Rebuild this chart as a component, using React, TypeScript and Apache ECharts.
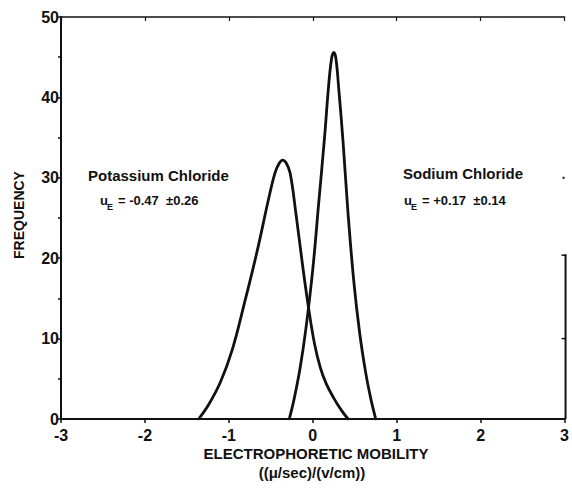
import React, { useEffect, useRef } from "react";
import * as echarts from "echarts";

const xTicks = [-3, -2, -1, 0, 1, 2, 3];
const yTicks = [0, 10, 20, 30, 40, 50];

const kclMobility = [-1.36, -1.24, -1.1, -0.96, -0.81, -0.66, -0.53, -0.45, -0.4, -0.36, -0.32, -0.27, -0.2, -0.12, -0.05, 0.02, 0.09, 0.16, 0.25, 0.34, 0.42];
const kclFrequency = [0, 1.8, 4.6, 8.6, 14.6, 21.0, 27.2, 30.6, 31.8, 32.2, 31.9, 30.6, 25.5, 19.0, 13.8, 9.4, 6.4, 4.4, 2.6, 1.1, 0];

const naclMobility = [-0.28, -0.22, -0.15, -0.08, 0.0, 0.07, 0.14, 0.19, 0.225, 0.25, 0.275, 0.31, 0.36, 0.42, 0.49, 0.56, 0.63, 0.69, 0.75];
const naclFrequency = [0, 2.6, 6.4, 11.4, 18.6, 26.8, 35.0, 41.6, 44.9, 45.6, 44.9, 41.0, 34.6, 25.6, 17.0, 10.6, 5.8, 2.6, 0];

const yTitle = "FREQUENCY";
const xTitle = "ELECTROPHORETIC MOBILITY";
const xUnits = "((\u03bc/sec)/(v/cm))";
const kclName = "Potassium Chloride";
const kclStat = "= -0.47  \u00b10.26";
const naclName = "Sodium Chloride";
const naclStat = "= +0.17  \u00b10.14";

export default function App() {
  const ref = useRef<HTMLDivElement>(null);
  useEffect(() => {
    const chart = echarts.init(ref.current!, null, { renderer: "svg" });
    const font = "'Liberation Sans', Arial, Helvetica, sans-serif";
    const ink = "#111";
    chart.setOption({
      animation: false,
      backgroundColor: "#fff",
      grid: { left: 61, right: 3, top: 17, bottom: 73, containLabel: false },
      xAxis: [
        {
          type: "value",
          min: xTicks[0],
          max: xTicks[xTicks.length - 1],
          interval: 1,
          axisLine: { show: true, onZero: false, lineStyle: { color: ink, width: 2 } },
          axisTick: { show: true, length: 4, lineStyle: { color: ink, width: 1.5 } },
          axisLabel: {
            color: ink,
            fontFamily: font,
            fontWeight: "bold",
            fontSize: 16,
            margin: 8,
          },
          splitLine: { show: false },
        },
        {
          type: "value",
          position: "top",
          min: xTicks[0],
          max: xTicks[xTicks.length - 1],
          interval: 1,
          axisLine: { show: true, onZero: false, lineStyle: { color: ink, width: 1.5 } },
          axisTick: { show: true, inside: true, length: 4, lineStyle: { color: ink, width: 1.2 } },
          axisLabel: { show: false },
          splitLine: { show: false },
        },
      ],
      yAxis: {
        type: "value",
        min: yTicks[0],
        max: yTicks[yTicks.length - 1],
        interval: 10,
        axisLine: { show: true, onZero: false, lineStyle: { color: ink, width: 2 } },
        axisTick: { show: true, length: 3, lineStyle: { color: ink, width: 1.5 } },
        minorTick: { show: true, splitNumber: 2, length: 3, lineStyle: { color: ink, width: 1.5 } },
        axisLabel: {
          color: ink,
          fontFamily: font,
          fontWeight: "bold",
          fontSize: 16,
          margin: 2,
        },
        splitLine: { show: false },
      },
      series: [
        {
          name: kclName,
          type: "line",
          xAxisIndex: 0,
          data: kclMobility.map((v, i) => [v, kclFrequency[i]]),
          showSymbol: false,
          smooth: 0.4,
          lineStyle: { color: ink, width: 2.8, join: "round", cap: "round" },
        },
        {
          name: naclName,
          type: "line",
          xAxisIndex: 0,
          data: naclMobility.map((v, i) => [v, naclFrequency[i]]),
          showSymbol: false,
          smooth: 0.4,
          lineStyle: { color: ink, width: 2.8, join: "round", cap: "round" },
        },
      ],
    });

    const pBottom = chart.convertToPixel({ gridIndex: 0 }, [xTicks[xTicks.length - 1], 0]) as number[];
    const pTop = chart.convertToPixel({ gridIndex: 0 }, [xTicks[xTicks.length - 1], 20.5]) as number[];
    const p10 = chart.convertToPixel({ gridIndex: 0 }, [xTicks[xTicks.length - 1], 10]) as number[];
    const p30 = chart.convertToPixel({ gridIndex: 0 }, [xTicks[xTicks.length - 1], 30]) as number[];
    const rx = pBottom[0] + 1;

    const txt = (text: string, x: number, y: number, size: number, extra: any = {}) => ({
      type: "text",
      x,
      y,
      style: {
        text,
        fill: ink,
        fontFamily: font,
        fontWeight: "bold",
        fontSize: size,
        textAlign: "left",
        textVerticalAlign: "middle",
        ...extra,
      },
    });

    chart.setOption({
      graphic: [
        { type: "line", shape: { x1: rx, y1: pTop[1], x2: rx, y2: pBottom[1] }, style: { stroke: ink, lineWidth: 2 } },
        { type: "line", shape: { x1: rx - 4, y1: pTop[1] + 1, x2: rx, y2: pTop[1] + 1 }, style: { stroke: ink, lineWidth: 1.5 } },
        { type: "line", shape: { x1: rx - 4, y1: p10[1], x2: rx, y2: p10[1] }, style: { stroke: ink, lineWidth: 1.5 } },
        { type: "rect", shape: { x: rx - 3, y: p30[1] - 1, width: 2, height: 2 }, style: { fill: ink } },
        {
          type: "text",
          x: 19,
          y: 215,
          rotation: Math.PI / 2,
          style: {
            text: yTitle,
            fill: ink,
            fontFamily: font,
            fontWeight: "bold",
            fontSize: 14,
            textAlign: "center",
            textVerticalAlign: "middle",
          },
        },
        txt(xTitle, 316, 453, 15, { textAlign: "center" }),
        txt(xUnits, 312, 472, 15, { textAlign: "center" }),
        txt(kclName, 88, 175, 15),
        txt("u", 100, 200, 13),
        txt("E", 107, 207, 9),
        txt(kclStat, 118, 200, 13),
        txt(naclName, 403, 173, 15),
        txt("u", 404, 200, 13),
        txt("E", 411, 207, 9),
        txt(naclStat, 422, 200, 13),
      ],
    });

    return () => chart.dispose();
  }, []);
  return <div ref={ref} style={{ position: "fixed", left: 0, top: 0, width: 572, height: 492 }} />;
}
